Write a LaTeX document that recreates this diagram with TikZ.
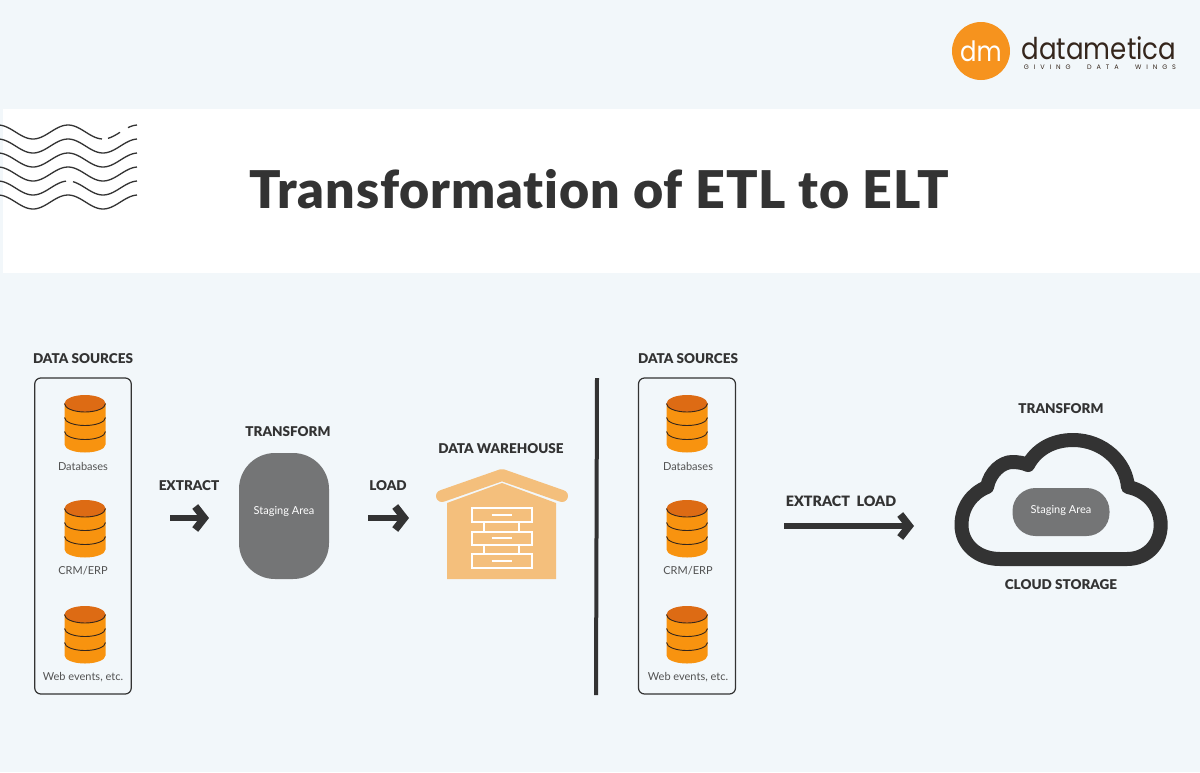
\documentclass[tikz,border=0pt]{standalone}
\usepackage{fontspec}
\setmainfont{Lato}
\newfontfamily\heavyfont[Ligatures=NoCommon]{Lato Black}
\newfontfamily\titlefont[Ligatures=NoCommon, LetterSpace=1.7]{Lato Black}
\newfontfamily\logofont[FakeStretch=0.87]{Poppins}
\newfontfamily\taglinefont[LetterSpace=75, WordSpace=2.5]{Poppins}
\usetikzlibrary{arrows.meta}
\definecolor{pagebg}{HTML}{F2F7FA}
\definecolor{inkdark}{HTML}{333333}
\definecolor{dborange}{HTML}{F8930F}
\definecolor{dbtop}{HTML}{DD6B14}
\definecolor{housefill}{HTML}{F4BF7C}
\definecolor{stagegray}{HTML}{747576}
\definecolor{logoorange}{HTML}{F6931E}
\definecolor{logobrown}{HTML}{35261C}
\tikzset{
	headlabel/.style={font=\heavyfont\fontsize{13.5}{16}\selectfont, text=inkdark, inner sep=0pt},
	smalllabel/.style={font=\fontsize{11}{13}\selectfont, text=inkdark!85, inner sep=0pt},
	stagelabel/.style={font=\fontsize{11}{13}\selectfont, text=white, inner sep=0pt},
	sourcebox/.style={draw=inkdark, line width=1.2pt, rounded corners=6pt, inner sep=0pt},
	flowarrow/.style={draw=inkdark, line width=6pt, -{Straight Barb[length=9pt,width=23pt,line width=7.5pt]}},
	wavy/.style={draw=inkdark, line width=1.3pt},
	drawer/.style={draw=white, line width=2pt},
	pics/dbstack/.style={code={
		\fill[dborange] (-20.5,0) -- (-20.5,41) arc[start angle=180, end angle=0, x radius=20.5, y radius=8] -- (20.5,0) -- cycle;
		\draw[logobrown, line width=0.9pt] (-20.5,14) arc[start angle=180, end angle=0, x radius=20.5, y radius=8];
		\draw[logobrown, line width=0.9pt] (-20.5,28) arc[start angle=180, end angle=0, x radius=20.5, y radius=8];
		\fill[dbtop] (0,0) ellipse[x radius=20.5, y radius=8.5];
		\draw[logobrown, line width=0.9pt] (-20.5,0) arc[start angle=180, end angle=0, x radius=20.5, y radius=8.5];
	}},
}
\begin{document}
\begin{tikzpicture}[x=1pt, y=-1pt]
	\useasboundingbox (0,0) rectangle (1200,772);
	\fill[pagebg] (0,0) rectangle (1200,772);
	\fill[white] (3,109) rectangle (1200,273);

	% waves, with the two broken lines
	\foreach \i in {1,2,3,5}
		\draw[wavy] plot[domain=0:137, samples=60, smooth] (\x,{146+14*(\i-1)-7*cos(360/70*(\x+2))});
	\draw[wavy] plot[domain=0:102, samples=45, smooth] (\x,{132-7*cos(360/70*(\x+2))});
	\draw[wavy] plot[domain=108:120, samples=8, smooth] (\x,{132-7*cos(360/70*(\x+2))});
	\draw[wavy] plot[domain=128:137, samples=6, smooth] (\x,{132-7*cos(360/70*(\x+2))});
	\draw[wavy] plot[domain=0:66, samples=30, smooth] (\x,{188-7*cos(360/70*(\x+2))});
	\draw[wavy] plot[domain=73:137, samples=30, smooth] (\x,{188-7*cos(360/70*(\x+2))});

	\node[font=\titlefont\fontsize{52}{56}\selectfont, text=inkdark, inner sep=0pt] (title) at (599,189) {Transformation of ETL to ELT};

	% logo
	\node[circle, fill=logoorange, minimum size=58pt, inner sep=0pt, text=white, font=\logofont\fontsize{28}{30}\selectfont] (logo) at (981,51) {dm};
	\node[font=\logofont\fontsize{30}{32}\selectfont, text=logobrown, inner sep=0pt] (brand) at (1099,48) {datametica};
	\node[font=\taglinefont\fontsize{6.5}{8}\selectfont, text=logobrown, inner sep=0pt] (tagline) at (1100,67) {GIVING DATA WINGS};

	% ETL side
	\node[headlabel] (srcA) at (83,358.5) {DATA SOURCES};
	\node[sourcebox, minimum width=96.5pt, minimum height=316pt] (boxA) at (83,536) {};
	\pic at (85,403.5) {dbstack};
	\node[smalllabel] (dbA) at (83,466) {Databases};
	\pic at (85,508.5) {dbstack};
	\node[smalllabel] (crmA) at (83,571) {CRM/ERP};
	\pic at (85,614.5) {dbstack};
	\node[smalllabel] (webA) at (83,677) {Web events, etc.};

	\node[headlabel] (extractA) at (189,485.5) {EXTRACT};
	\coordinate (extractS) at (170,518);
	\coordinate (extractE) at (209,518);
	\draw[flowarrow] (extractS) -- (extractE);

	\node[headlabel] (transformA) at (288,431.5) {TRANSFORM};
	\node[fill=stagegray, rounded corners=36pt, minimum width=90pt, minimum height=126pt, inner sep=0pt] (stageA) at (284,516) {};
	\node[stagelabel] (stageAtxt) at (284,511.5) {Staging Area};

	\node[headlabel] (loadA) at (388,485.5) {LOAD};
	\coordinate (loadS) at (368,518);
	\coordinate (loadE) at (409,518);
	\draw[flowarrow] (loadS) -- (loadE);

	% warehouse
	\node[headlabel] (house) at (501,448.5) {DATA WAREHOUSE};
	\fill[housefill] (447,503) -- (502,483) -- (556,503) -- (556,579) -- (447,579) -- cycle;
	\draw[housefill, line width=12pt, line cap=round, line join=round] (442,496) -- (502,475) -- (562,496);
	\draw[drawer] (471.7,508.3) rectangle (531.7,522.3);
	\draw[drawer] (471.7,531.7) rectangle (531.7,545);
	\draw[drawer] (471.7,554) rectangle (531.7,568.3);
	\draw[drawer] (484,522.3) -- (484,531.7) (519.3,522.3) -- (519.3,531.7);
	\draw[drawer] (484,545) -- (484,554) (519.3,545) -- (519.3,554);
	\draw[drawer] (491.7,515) -- (511.7,515);
	\draw[drawer] (491.7,538.3) -- (511.7,538.3);
	\draw[drawer] (491.7,560.7) -- (511.7,560.7);

	% divider
	\coordinate (divT) at (597,378);
	\coordinate (divB) at (596,695);
	\draw[inkdark, line width=4pt] (divT) -- (divB);

	% ELT side
	\node[headlabel] (srcB) at (688,358.5) {DATA SOURCES};
	\node[sourcebox, minimum width=97pt, minimum height=316pt] (boxB) at (687,536) {};
	\pic at (687,403.5) {dbstack};
	\node[smalllabel] (dbB) at (688,466) {Databases};
	\pic at (687,508.5) {dbstack};
	\node[smalllabel] (crmB) at (688,571) {CRM/ERP};
	\pic at (687,614.5) {dbstack};
	\node[smalllabel] (webB) at (688,677) {Web events, etc.};

	\node[headlabel, font=\heavyfont\fontsize{14.3}{16}\selectfont] (extractB) at (841,501.5) {EXTRACT\ \ LOAD};
	\coordinate (longS) at (784,526);
	\coordinate (longE) at (914,526);
	\draw[flowarrow] (longS) -- (longE);

	\node[headlabel] (transformB) at (1061,408.5) {TRANSFORM};
	\draw[inkdark, line width=14pt, line join=round] (1000,559)
		.. controls (978,559) and (961.5,545) .. (961.5,525)
		.. controls (961.5,507) and (972,493) .. (987,487)
		.. controls (990,472) and (1002,462) .. (1012,462)
		.. controls (1018,462) and (1024,463) .. (1028,465)
		.. controls (1036,450) and (1052,440) .. (1073,440)
		.. controls (1103,440) and (1126,462) .. (1128,487)
		.. controls (1148,491) and (1160.7,507) .. (1160.7,525)
		.. controls (1160.7,545) and (1146,559) .. (1127,559)
		-- cycle;
	\node[fill=stagegray, rounded corners=23pt, minimum width=97pt, minimum height=48pt, inner sep=0pt] (stageB) at (1061,512) {};
	\node[stagelabel] (stageBtxt) at (1061,510) {Staging Area};
	\node[headlabel] (cloud) at (1061,584.5) {CLOUD STORAGE};
\end{tikzpicture}
\end{document}
